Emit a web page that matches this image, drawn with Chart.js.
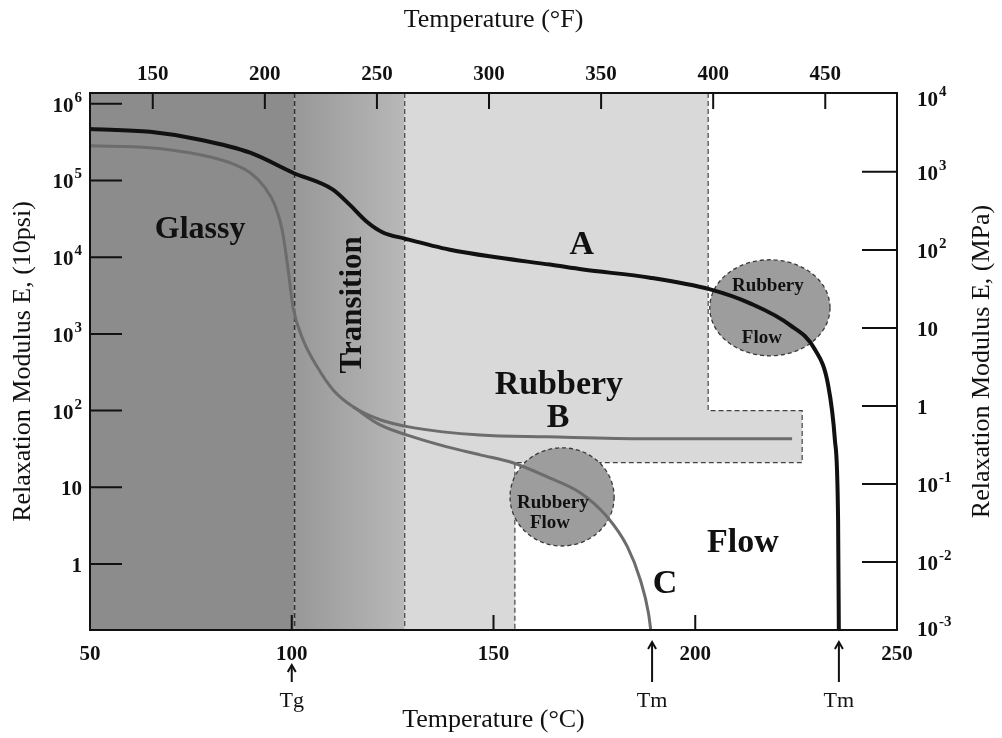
<!DOCTYPE html>
<html>
<head>
<meta charset="utf-8">
<script src="https://cdn.jsdelivr.net/npm/chart.js@4.4.1/dist/chart.umd.min.js"></script>
<style>
  body { margin: 0; background: #fff; }
  #wrap { width: 1002px; height: 738px; }
</style>
</head>
<body>
<div id="wrap"><canvas id="mychart"></canvas></div>
<script>
// curve A (black), temperature in C and modulus in 10psi
var tempA = [50, 64.9, 77.3, 89.7, 100.3, 110.2, 114.4, 118.6, 122.6, 128.1, 139.2, 151.6, 164.0, 172.2, 188.8, 203.7, 213.6, 223.5, 229.7, 232.9, 234.6, 235.4, 235.6];
var modA  = [4.7e5, 4.3e5, 3.4e5, 2.3e5, 1.26e5, 7.6e4, 4.8e4, 2.9e4, 2.1e4, 1.74e4, 1.25e4, 9.8e3, 8.0e3, 6.9e3, 5.4e3, 3.8e3, 2.5e3, 1.3e3, 620, 220, 42, 3.8, 0.1];
// curve B (grey, crosslinked plateau)
var tempB = [50, 64.9, 77.3, 84.7, 89.7, 93.4, 95.8, 97.6, 99.1, 100.3, 102.8, 106.3, 110.2, 115.2, 121.9, 130.0, 146.7, 163.3, 188.0, 224.0];
var modB  = [2.83e5, 2.67e5, 2.16e5, 1.7e5, 1.26e5, 8.0e4, 4.8e4, 2.3e4, 6.9e3, 2.25e3, 837, 372, 187, 112, 76, 60, 48, 45.5, 42.9, 42.9];
// curve C (grey, leaves B and flows)
var tempC = [115.2, 121.9, 130.0, 138.5, 146.7, 154.8, 163.3, 171.5, 178.2, 183.2, 186.4, 188.4, 189.3];
var modC  = [112, 65, 45.5, 33.7, 26.5, 20.9, 13.7, 8.5, 4.1, 1.67, 0.62, 0.23, 0.1];

// axis ticks
var ticksC = [50, 100, 150, 200, 250];
var ticksF = [150, 200, 250, 300, 350, 400, 450];
var leftTickValues = [1, 10, 100, 1e3, 1e4, 1e5, 1e6];
var leftTickLabels = ['1', '10', '10^2', '10^3', '10^4', '10^5', '10^6'];
var rightTickValues = [Math.pow(10, -2.87), 0.01, 0.1, 1, 10, 100, 1000, 1e4];
var rightTickLabels = ['10^-3', '10^-2', '10^-1', '1', '10', '10^2', '10^3', '10^4'];

// regions (C) and the rubbery step (10psi)
var tg = 100.7, rubberyStart = 128, rubberyFoot = 155.3, rubberyTop = 203.2, rubberyStep = 226.5;
var stepHigh = 100, stepLow = 21;
var markTg = [100];
var markTm = [189.3, 235.6];

var serif = "'Liberation Serif', 'DejaVu Serif', serif";

var ellipses = [
  { t: 218.5, e: 2190, rt: 14.9, rd: 0.626 },
  { t: 167.0, e: 7.5, rt: 12.9, rd: 0.64 }
];
var plotLabels = [
  { text: 'Glassy', t: 77.3, e: 2.3e4, size: 32 },
  { text: 'Transition', t: 115.2, e: 2390, size: 31, rot: true },
  { text: 'A', t: 171.9, e: 1.45e4, size: 34 },
  { text: 'Rubbery', t: 166.2, e: 217, size: 34 },
  { text: 'B', t: 166.0, e: 80.5, size: 34 },
  { text: 'Flow', t: 211.8, e: 1.89, size: 34 },
  { text: 'C', t: 192.5, e: 0.55, size: 34 },
  { text: 'Rubbery', t: 218.0, e: 4240, size: 19 },
  { text: 'Flow', t: 216.5, e: 890, size: 19 },
  { text: 'Rubbery', t: 164.7, e: 6.3, size: 19 },
  { text: 'Flow', t: 164.0, e: 3.44, size: 19 }
];

function pts(xs, ys) { return xs.map(function (x, i) { return { x: x, y: ys[i] }; }); }

// "10^6" drawn as 10 with a raised exponent
function powerLabel(ctx, label, x, y, align) {
  var parts = label.split('^');
  var baseFont = 'bold 21px ' + serif, expFont = 'bold 15px ' + serif;
  ctx.font = baseFont;
  var wb = ctx.measureText(parts[0]).width;
  ctx.font = expFont;
  var we = parts[1] ? ctx.measureText(parts[1]).width + 1 : 0;
  var x0 = align === 'right' ? x - wb - we : x;
  ctx.textAlign = 'left'; ctx.textBaseline = 'alphabetic';
  ctx.font = baseFont; ctx.fillText(parts[0], x0, y + 8);
  if (parts[1]) { ctx.font = expFont; ctx.fillText(parts[1], x0 + wb + 1, y - 2); }
}

var figure = {
  id: 'figure',
  beforeDatasetsDraw: function (chart) {
    var ctx = chart.ctx, a = chart.chartArea, X = chart.scales.x, Y = chart.scales.y;
    var px = function (t) { return X.getPixelForValue(t); };
    var py = function (e) { return Y.getPixelForValue(e); };
    ctx.save();
    ctx.beginPath(); ctx.rect(a.left, a.top, a.width, a.height); ctx.clip();
    // glassy
    ctx.fillStyle = '#8c8c8c';
    ctx.fillRect(a.left, a.top, px(tg) - a.left, a.height);
    // transition
    var g = ctx.createLinearGradient(px(tg), 0, px(rubberyStart), 0);
    g.addColorStop(0, '#989898'); g.addColorStop(1, '#b8b8b8');
    ctx.fillStyle = g;
    ctx.fillRect(px(tg), a.top, px(rubberyStart) - px(tg), a.height);
    // rubbery
    ctx.fillStyle = '#d9d9d9';
    ctx.beginPath();
    ctx.moveTo(px(rubberyStart), a.top);
    ctx.lineTo(px(rubberyTop), a.top);
    ctx.lineTo(px(rubberyTop), py(stepHigh));
    ctx.lineTo(px(rubberyStep), py(stepHigh));
    ctx.lineTo(px(rubberyStep), py(stepLow));
    ctx.lineTo(px(rubberyFoot), py(stepLow));
    ctx.lineTo(px(rubberyFoot), a.bottom);
    ctx.lineTo(px(rubberyStart), a.bottom);
    ctx.closePath(); ctx.fill();
    // dashed edges
    ctx.setLineDash([5, 3]);
    ctx.lineWidth = 1.5; ctx.strokeStyle = '#333';
    ctx.beginPath(); ctx.moveTo(px(tg), a.top); ctx.lineTo(px(tg), a.bottom); ctx.stroke();
    ctx.lineWidth = 1.2; ctx.strokeStyle = '#444';
    ctx.beginPath(); ctx.moveTo(px(rubberyStart), a.top); ctx.lineTo(px(rubberyStart), a.bottom); ctx.stroke();
    ctx.beginPath();
    ctx.moveTo(px(rubberyTop), a.top);
    ctx.lineTo(px(rubberyTop), py(stepHigh));
    ctx.lineTo(px(rubberyStep), py(stepHigh));
    ctx.lineTo(px(rubberyStep), py(stepLow));
    ctx.lineTo(px(rubberyFoot), py(stepLow));
    ctx.lineTo(px(rubberyFoot), a.bottom);
    ctx.stroke();
    // rubbery flow ellipses
    ellipses.forEach(function (el) {
      var cx = px(el.t), cy = py(el.e);
      var rx = px(el.t + el.rt) - cx;
      var ry = cy - py(el.e * Math.pow(10, el.rd));
      ctx.beginPath(); ctx.ellipse(cx, cy, rx, ry, 0, 0, Math.PI * 2);
      ctx.fillStyle = '#9d9d9d'; ctx.fill();
      ctx.setLineDash([4, 3]); ctx.strokeStyle = '#3a3a3a'; ctx.lineWidth = 1.3; ctx.stroke();
    });
    ctx.restore();
  },
  afterDatasetsDraw: function (chart) {
    var ctx = chart.ctx, a = chart.chartArea, s = chart.scales;
    var X = s.x, Y = s.y;
    ctx.save();
    ctx.strokeStyle = '#111'; ctx.lineWidth = 2;
    // inward ticks
    ctx.beginPath();
    s.y.ticks.forEach(function (t) { var p = s.y.getPixelForValue(t.value); ctx.moveTo(a.left, p); ctx.lineTo(a.left + 32, p); });
    s.y2.ticks.forEach(function (t, i) {
      if (i === 0 || i === s.y2.ticks.length - 1) return;
      var p = s.y2.getPixelForValue(t.value); ctx.moveTo(a.right, p); ctx.lineTo(a.right - 35, p);
    });
    s.x.ticks.forEach(function (t) { var p = s.x.getPixelForValue(t.value); ctx.moveTo(p, a.bottom); ctx.lineTo(p, a.bottom - 15); });
    s.xF.ticks.forEach(function (t) { var p = s.xF.getPixelForValue(t.value); ctx.moveTo(p, a.top); ctx.lineTo(p, a.top + 16); });
    ctx.stroke();
    // frame
    ctx.strokeRect(a.left, a.top, a.width, a.height);
    // log axis labels with raised exponents
    ctx.fillStyle = '#111';
    s.y.ticks.forEach(function (t, i) { powerLabel(ctx, leftTickLabels[i], a.left - 8, s.y.getPixelForValue(t.value), 'right'); });
    s.y2.ticks.forEach(function (t, i) {
      var p = s.y2.getPixelForValue(t.value);
      if (i === 0) p -= 2;
      if (i === s.y2.ticks.length - 1) p += 4;
      powerLabel(ctx, rightTickLabels[i], a.right + 20, p, 'left');
    });
    // labels inside the plot
    ctx.textAlign = 'center'; ctx.textBaseline = 'middle';
    plotLabels.forEach(function (l) {
      var x = X.getPixelForValue(l.t), y = Y.getPixelForValue(l.e);
      ctx.font = 'bold ' + l.size + 'px ' + serif;
      if (l.rot) {
        ctx.save(); ctx.translate(x, y); ctx.rotate(-Math.PI / 2); ctx.fillText(l.text, 0, 0); ctx.restore();
      } else {
        ctx.fillText(l.text, x, y);
      }
    });
    // Tg / Tm arrows
    ctx.lineWidth = 2; ctx.font = '22px ' + serif;
    function arrow(t, y0, y1, label) {
      var x = X.getPixelForValue(t);
      ctx.beginPath(); ctx.moveTo(x, y1); ctx.lineTo(x, y0); ctx.stroke();
      ctx.beginPath(); ctx.moveTo(x - 4, y0 + 7); ctx.lineTo(x, y0); ctx.lineTo(x + 4, y0 + 7); ctx.stroke();
      ctx.fillText(label, x, 701);
    }
    markTg.forEach(function (t) { arrow(t, 665, 682, 'Tg'); });
    markTm.forEach(function (t) { arrow(t, 642, 682, 'Tm'); });
    // right axis title (reads upward like the left one)
    ctx.font = '26px ' + serif;
    ctx.save(); ctx.translate(982, (a.top + a.bottom) / 2); ctx.rotate(-Math.PI / 2);
    ctx.fillText('Relaxation Modulus E, (MPa)', 0, 0); ctx.restore();
    ctx.restore();
  }
};

var tickFont = { family: serif, size: 21, weight: 'bold' };
var titleFont = { family: serif, size: 26 };

var ctx = document.getElementById('mychart');
var myChart = new Chart(ctx, {
  type: 'line',
  data: {
    datasets: [
      { label: 'A', data: pts(tempA, modA), borderColor: '#111', borderWidth: 4, pointRadius: 0, cubicInterpolationMode: 'monotone' },
      { label: 'B', data: pts(tempB, modB), borderColor: '#6c6c6c', borderWidth: 3, pointRadius: 0, cubicInterpolationMode: 'monotone' },
      { label: 'C', data: pts(tempC, modC), borderColor: '#6c6c6c', borderWidth: 3, pointRadius: 0, cubicInterpolationMode: 'monotone' }
    ]
  },
  options: {
    responsive: true,
    maintainAspectRatio: false,
    animation: false,
    layout: { padding: 0 },
    plugins: { legend: { display: false }, tooltip: { enabled: false } },
    scales: {
      x: {
        type: 'linear', position: 'bottom', min: 50, max: 250,
        afterBuildTicks: function (sc) { sc.ticks = ticksC.map(function (v) { return { value: v }; }); },
        afterFit: function (sc) { sc.height = 108; },
        grid: { display: false, drawTicks: false }, border: { display: false },
        ticks: { color: '#111', font: tickFont, padding: 12, maxRotation: 0 },
        title: { display: true, text: 'Temperature (°C)', color: '#111', font: titleFont, padding: { bottom: 2 } }
      },
      xF: {
        type: 'linear', position: 'top', min: 122, max: 482,
        afterBuildTicks: function (sc) { sc.ticks = ticksF.map(function (v) { return { value: v }; }); },
        afterFit: function (sc) { sc.height = 93; },
        grid: { display: false, drawTicks: false }, border: { display: false },
        ticks: { color: '#111', font: tickFont, padding: 6, maxRotation: 0 },
        title: { display: true, text: 'Temperature (°F)', color: '#111', font: titleFont, padding: { top: 5 } }
      },
      y: {
        type: 'logarithmic', position: 'left', min: Math.pow(10, -0.86), max: Math.pow(10, 6.14),
        afterBuildTicks: function (sc) { sc.ticks = leftTickValues.map(function (v) { return { value: v }; }); },
        afterFit: function (sc) { sc.width = 90; },
        grid: { display: false, drawTicks: false }, border: { display: false },
        ticks: { display: false },
        title: { display: true, text: 'Relaxation Modulus E, (10psi)', color: '#111', font: titleFont, padding: { top: 8 } }
      },
      y2: {
        type: 'logarithmic', position: 'right', min: Math.pow(10, -2.87), max: Math.pow(10, 4.01),
        afterBuildTicks: function (sc) { sc.ticks = rightTickValues.map(function (v) { return { value: v }; }); },
        afterFit: function (sc) { sc.width = 105; },
        grid: { display: false, drawTicks: false }, border: { display: false },
        ticks: { display: false }
      }
    }
  },
  plugins: [figure]
});
</script>
</body>
</html>
